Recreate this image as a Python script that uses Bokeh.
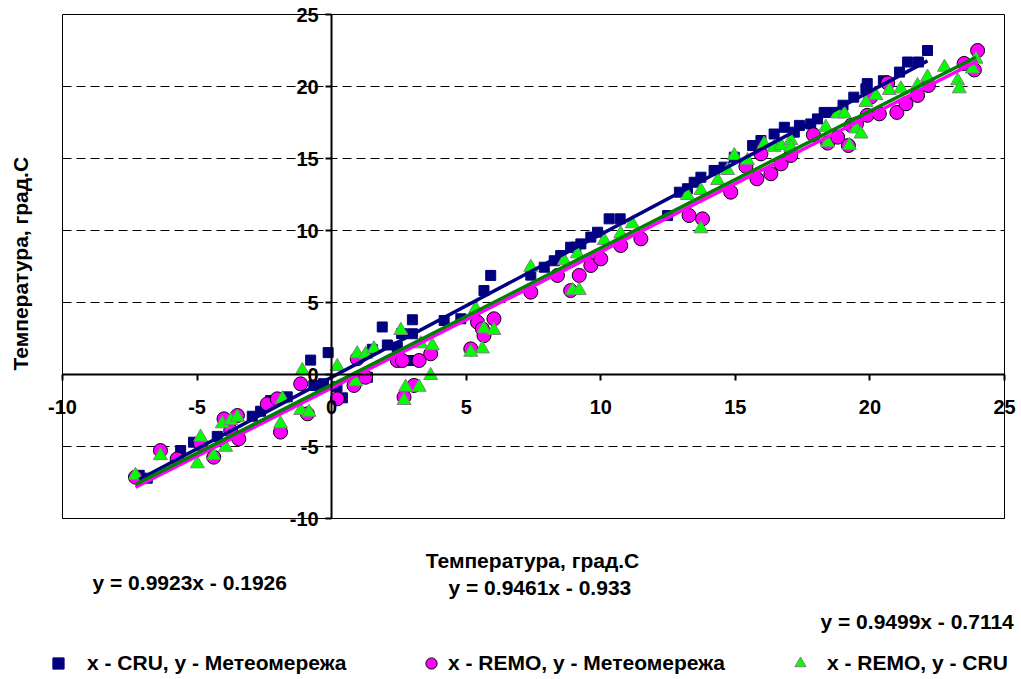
import numpy as np
from bokeh.plotting import figure
from bokeh.models import (Range1d, FixedTicker, Label, Legend, LegendItem,
                          CustomJSTickFormatter)
from bokeh.embed import file_html
from bokeh.resources import INLINE

# ---- data: x - CRU, y - Meteo (squares)
cru_x = [-7.15, -6.85, -5.61, -5.13, -4.25, -2.95, -2.64, -2.27, -1.65, -0.78, -0.66, -0.3, -0.13,
         0.2, 0.4, 1.33, 1.51, 1.88, 2.07, 2.44, 2.6, 3.0, 2.94, 3.0, 4.18, 4.8, 5.66, 5.91,
         7.4, 7.9, 8.27, 8.51, 8.88, 9.07, 9.26, 9.63, 9.88, 10.31, 10.72, 12.48, 12.92, 13.22,
         13.47, 13.72, 14.21, 14.58, 14.96, 15.64, 15.95, 16.44, 16.82, 17.19, 17.38, 17.8,
         18.05, 18.3, 18.67, 19.0, 19.4, 19.85, 19.9, 20.5, 21.1, 21.4, 21.8, 22.14]
cru_y = [-7.0, -7.2, -5.28, -4.7, -4.3, -2.9, -2.55, -1.81, -1.55, 1.0, -0.76, -0.64, 1.52,
         -0.85, -1.62, -0.19, 1.75, 3.3, 2.05, 1.9, 2.84, 3.8, 0.97, 2.83, 3.75, 3.87, 5.83, 6.88,
         6.9, 7.45, 7.9, 8.26, 8.84, 8.84, 9.07, 9.54, 9.88, 10.81, 10.81, 11.04, 12.66, 12.9,
         13.35, 13.7, 14.17, 14.4, 15.09, 15.9, 16.25, 16.7, 17.17, 16.83, 17.3, 17.4,
         17.75, 18.2, 18.2, 18.7, 19.26, 19.84, 20.2, 20.4, 21.0, 21.7, 21.7, 22.5]

# ---- x - REMO, y - Meteo (circles)
remo_m_x = [-7.29, -6.36, -5.74, -4.87, -4.38, -4.0, -3.75, -3.5, -3.45, -2.39, -2.02, -1.9,
            -1.15, -0.9, 0.21, 0.83, 0.95, 1.26, 2.44, 2.63, 3.25, 3.68, 2.69, 3.06, 5.17, 5.42,
            5.6, 5.66, 6.03, 7.4, 8.39, 8.88, 9.2, 9.63, 10.0, 10.74, 11.49, 13.28, 13.78, 14.83,
            15.39, 15.8, 16.32, 15.95, 16.7, 17.06, 17.9, 18.43, 18.8, 19.2, 19.3, 19.5, 19.9,
            20.03, 20.35, 20.66, 21.0, 21.34, 21.77, 22.17, 23.5, 23.88, 24.0]
remo_m_y = [-7.13, -5.28, -5.86, -4.81, -5.74, -3.08, -3.9, -2.85, -4.47, -2.04, -1.69, -4.0,
            -0.65, -2.73, -1.69, -0.76, 1.09, -0.19, 0.97, 0.97, 0.97, 1.44, -1.57, -0.76, 1.78, 3.63,
            3.17, 2.7, 3.87, 5.72, 6.88, 5.83, 6.88, 7.57, 8.03, 8.96, 9.42, 11.04, 10.81, 12.66,
            14.45, 13.59, 13.94, 15.32, 14.63, 15.21, 16.65, 16.07, 16.48, 15.9, 17.3, 17.4, 18.0,
            19.26, 18.1, 20.25, 18.2, 18.8, 19.38, 20.07, 21.6, 21.15, 22.5]

# ---- x - REMO, y - CRU (triangles)
remo_c_x = [-7.29, -6.36, -4.99, -4.87, -4.38, -3.94, -4.06, -3.75, -3.5, -1.9, -1.83, -1.09,
            -1.15, -0.84, 0.21, 0.89, 0.95, 1.26, 1.57, 2.57, 2.75, 3.25, 2.69, 3.68, 3.31, 3.74,
            5.17, 5.6, 5.35, 5.66, 6.03, 7.4, 8.64, 8.95, 9.2, 9.13, 10.13, 10.74, 11.17, 13.72,
            13.22, 13.72, 14.34, 14.71, 14.96, 15.45, 16.07, 16.44, 16.7, 17.06, 17.06, 18.36,
            18.43, 18.8, 19.05, 19.23, 19.48, 19.67, 19.85, 20.22, 20.72, 21.15, 21.77, 22.14,
            22.77, 23.26, 23.32, 23.81, 23.94]
remo_c_y = [-7.0, -5.63, -6.2, -4.35, -5.63, -5.05, -3.42, -3.19, -2.96, -3.42, -1.69, 0.28,
            -2.5, -2.62, 0.55, -0.5, 1.44, 1.4, 1.78, 3.06, -0.88, -0.88, -1.8, -0.07, 2.13, 2.0,
            1.55, 1.78, 4.56, 3.17, 3.06, 7.45, 7.9, 5.83, 5.83, 8.38, 9.3, 9.77, 10.47, 10.12,
            12.43, 12.78, 13.47, 14.17, 15.2, 14.86, 16.0, 15.78, 15.9, 16.25, 15.78, 17.17,
            16.1, 18.1, 18.1, 15.9, 17.06, 16.7, 18.9, 19.38, 19.72, 19.84, 20.07, 20.65,
            21.34, 20.4, 19.84, 21.22, 21.9]

# trend line coefficients (slope, intercept)
trend_cru_meteo = (0.9923, -0.1926)
trend_remo_meteo = (0.9461, -0.933)
trend_remo_cru = (0.9499, -0.7114)

eq_labels = ["y = 0.9923x - 0.1926", "y = 0.9461x - 0.933", "y = 0.9499x - 0.7114"]
series_labels = ["x - CRU, y - Метеомережа", "x - REMO, y - Метеомережа", "x - REMO, y - CRU"]
axis_title = "Температура, град.С"
ticks = [-10, -5, 0, 5, 10, 15, 20, 25]
axis_min, axis_max = -10, 25

FONT = "Liberation Sans"

# canvas and plot-area placement (pixels)
W, H = 1020, 678
PL, PR, PT, PB = 62, 1004, 14, 518      # plot area edges
sx = (PR - PL) / (axis_max - axis_min)
sy = (PB - PT) / (axis_max - axis_min)
x0 = axis_min - PL / sx
x1 = axis_max + (W - PR) / sx
y1 = axis_max + PT / sy
y0 = axis_min - (H - PB) / sy

p = figure(width=W, height=H, x_range=Range1d(x0, x1), y_range=Range1d(y0, y1),
           output_backend="svg", toolbar_location=None, title=None,
           min_border_left=0, min_border_right=0, min_border_top=0, min_border_bottom=0)
p.background_fill_color = "white"
p.border_fill_color = "white"
p.outline_line_color = None

fmt = CustomJSTickFormatter(code="return tick.toString()")
for ax in (p.xaxis[0], p.yaxis[0]):
    ax.fixed_location = 0
    ax.bounds = (axis_min, axis_max)
    ax.ticker = FixedTicker(ticks=ticks)
    ax.formatter = fmt
    ax.axis_line_width = 2
    ax.axis_line_color = "black"
    ax.major_tick_line_width = 2
    ax.major_tick_line_color = "black"
    ax.major_tick_in = 0
    ax.major_tick_out = 6
    ax.minor_tick_line_color = None
    ax.major_label_text_font = FONT
    ax.major_label_text_font_style = "bold"
    ax.major_label_text_font_size = "20px"
    ax.major_label_text_color = "black"
p.xaxis.major_label_standoff = 19
p.yaxis.major_label_standoff = 7

p.xgrid.grid_line_color = None
p.ygrid.ticker = FixedTicker(ticks=[-10, -5, 5, 10, 15, 20])
p.ygrid.cross_bounds = (axis_min, axis_max)
p.ygrid.grid_line_color = "black"
p.ygrid.grid_line_dash = "9 5"
p.ygrid.grid_line_width = 1

# plot-area frame
p.quad(left=[axis_min], right=[axis_max], bottom=[axis_min], top=[axis_max],
       fill_color=None, line_color="black", line_width=1)

r1 = p.scatter(cru_x, cru_y, marker="square", size=10, fill_color="#000080", line_color="#000080")
r2 = p.scatter(remo_m_x, remo_m_y, marker="circle", size=14, fill_color="#FF00FF", line_color="black")
r3 = p.scatter(remo_c_x, remo_c_y, marker="triangle", size=14, fill_color="#00FF00", line_color="#808080")

def trend(xs, coef):
    xx = np.array([min(xs), max(xs)])
    return xx, coef[0] * xx + coef[1]

for xs, coef, col in ((cru_x, trend_cru_meteo, "#000080"),
                      (remo_m_x, trend_remo_meteo, "#FF00FF"),
                      (remo_c_x, trend_remo_cru, "#008000")):
    tx, ty = trend(xs, coef)
    p.line(tx, ty, line_color=col, line_width=3.5)

# page pixel -> data helpers for annotation placement
def dx(px):
    return x0 + px / sx

def dy(py):
    return y1 - py / sy

def lab(x, y, text, align="left", baseline="alphabetic", angle=0):
    p.add_layout(Label(x=dx(x), y=dy(y), text=text, text_font=FONT, text_font_style="bold",
                       text_font_size="21px", text_color="black", text_align=align,
                       text_baseline=baseline, angle=angle))

lab(532, 560, axis_title, align="center")
lab(20, 370, axis_title, align="left", baseline="alphabetic", angle=np.pi / 2)
lab(92, 582, eq_labels[0])
lab(448, 587, eq_labels[1])
lab(820, 621, eq_labels[2])

# legends (three single-item legends placed along the bottom)
GL = 28
leg_specs = [(r1, series_labels[0], 58, 15), (r2, series_labels[1], 431, 3), (r3, series_labels[2], 800, 13)]
for rr, txt, cx, so in leg_specs:
    lg = Legend(items=[LegendItem(label=txt, renderers=[rr])],
                location=(cx - GL / 2, (H - 663) - GL / 2),
                glyph_width=GL, glyph_height=GL, label_height=GL, label_standoff=so,
                padding=0, margin=0, spacing=0,
                background_fill_alpha=0, border_line_alpha=0,
                label_text_font=FONT, label_text_font_style="bold", label_text_font_size="21px",
                label_text_color="black", label_text_baseline="middle")
    p.add_layout(lg)

open("out.html", "w").write(file_html(p, INLINE))
